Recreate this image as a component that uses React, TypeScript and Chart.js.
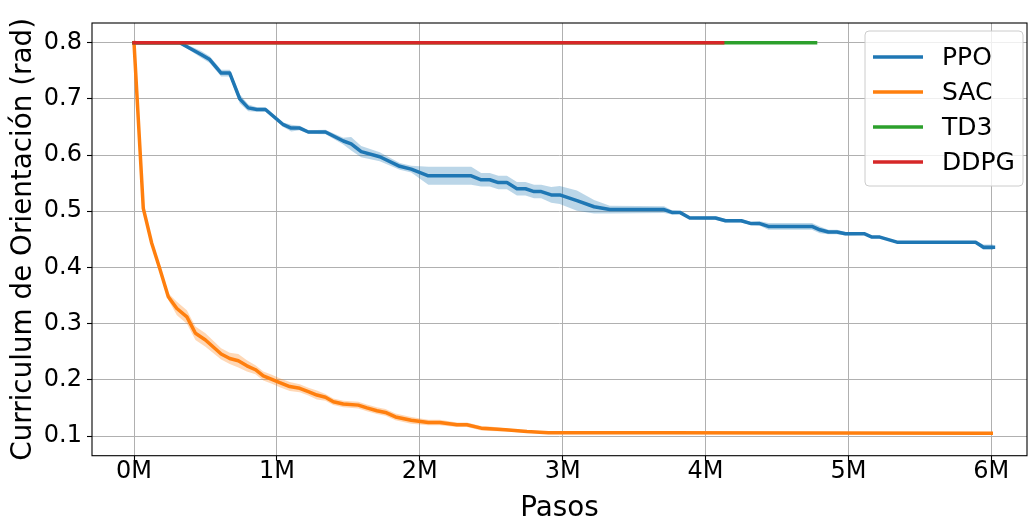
import React, { useEffect, useRef } from "react";
import { Chart, registerables } from "chart.js";

Chart.register(...registerables);

// ---------- data (x in millions of steps) ----------
const ppoSteps = [0, 0.32, 0.47, 0.53, 0.61, 0.67, 0.74, 0.80, 0.86, 0.92, 1.045, 1.10, 1.16, 1.22, 1.34, 1.465, 1.52, 1.59, 1.72, 1.86, 1.94, 2.06, 2.36, 2.43, 2.49, 2.55, 2.61, 2.68, 2.74, 2.80, 2.85, 2.92, 2.98, 3.10, 3.22, 3.33, 3.71, 3.765, 3.82, 3.89, 4.07, 4.14, 4.25, 4.32, 4.38, 4.44, 4.745, 4.80, 4.86, 4.92, 4.98, 5.11, 5.165, 5.22, 5.34, 5.89, 5.945, 6.015];
const ppoMean = [0.8, 0.8, 0.779, 0.77, 0.746, 0.746, 0.70, 0.684, 0.681, 0.681, 0.654, 0.648, 0.648, 0.641, 0.641, 0.625, 0.620, 0.606, 0.597, 0.580, 0.575, 0.563, 0.563, 0.556, 0.556, 0.551, 0.551, 0.540, 0.540, 0.535, 0.535, 0.529, 0.529, 0.519, 0.508, 0.503, 0.503, 0.498, 0.498, 0.488, 0.488, 0.483, 0.483, 0.478, 0.478, 0.473, 0.473, 0.467, 0.463, 0.463, 0.460, 0.460, 0.454, 0.454, 0.445, 0.445, 0.436, 0.436];
const ppoSpread = [0, 0.002, 0.006, 0.006, 0.006, 0.006, 0.008, 0.006, 0.004, 0.004, 0.004, 0.006, 0.004, 0.003, 0.004, 0.006, 0.012, 0.010, 0.008, 0.006, 0.006, 0.016, 0.016, 0.012, 0.012, 0.012, 0.012, 0.012, 0.012, 0.012, 0.012, 0.014, 0.016, 0.018, 0.012, 0.007, 0.006, 0.004, 0.003, 0.002, 0.003, 0.003, 0.003, 0.003, 0.004, 0.006, 0.006, 0.006, 0.004, 0.004, 0.003, 0.002, 0.002, 0.002, 0.002, 0.002, 0.005, 0.005];

const sacSteps = [0, 0.065, 0.124, 0.18, 0.24, 0.30, 0.37, 0.43, 0.50, 0.61, 0.67, 0.73, 0.79, 0.85, 0.905, 0.965, 1.02, 1.09, 1.16, 1.22, 1.28, 1.34, 1.395, 1.465, 1.57, 1.63, 1.70, 1.76, 1.83, 1.94, 2.06, 2.14, 2.26, 2.33, 2.43, 2.49, 2.60, 2.75, 2.90, 3.70, 6.00];
const sacMean = [0.8, 0.505, 0.443, 0.398, 0.348, 0.327, 0.312, 0.283, 0.271, 0.246, 0.238, 0.234, 0.225, 0.218, 0.207, 0.201, 0.195, 0.188, 0.185, 0.179, 0.173, 0.169, 0.161, 0.157, 0.155, 0.150, 0.145, 0.142, 0.134, 0.128, 0.124, 0.124, 0.120, 0.120, 0.114, 0.113, 0.111, 0.108, 0.106, 0.106, 0.105];
const sacSpread = [0, 0.004, 0.004, 0.005, 0.006, 0.012, 0.012, 0.012, 0.012, 0.010, 0.010, 0.012, 0.010, 0.008, 0.008, 0.008, 0.008, 0.008, 0.007, 0.007, 0.008, 0.006, 0.006, 0.006, 0.006, 0.006, 0.006, 0.006, 0.006, 0.006, 0.005, 0.005, 0.004, 0.004, 0.004, 0.004, 0.003, 0.002, 0.001, 0.001, 0.001];

const td3Steps = [0, 4.77];
const td3Values = [0.8, 0.8];
const ddpgSteps = [0, 4.12];
const ddpgValues = [0.8, 0.8];

const xTicks = [0, 1, 2, 3, 4, 5, 6];
const yTicks = [0.1, 0.2, 0.3, 0.4, 0.5, 0.6, 0.7, 0.8];

const legendNames = ["PPO", "SAC", "TD3", "DDPG"];
const colors = ["#1f77b4", "#ff7f0e", "#2ca02c", "#d62728"];

const FONT = "DejaVu Sans";
const TICK_SIZE = 24;
const LINE_W = 3.5;

const pts = (xs: number[], ys: number[]) => xs.map((x, i) => ({ x, y: ys[i] }));

const framePlugin = {
  id: "frameAndLegend",
  afterDraw(chart: any) {
    const ctx = chart.ctx;
    const a = chart.chartArea;
    ctx.save();
    // frame
    ctx.strokeStyle = "#000";
    ctx.lineWidth = 1.1;
    ctx.strokeRect(a.left, a.top, a.right - a.left, a.bottom - a.top);
    // legend
    const bx = 865, by = 31, bw = 158, bh = 155, r = 4;
    ctx.beginPath();
    ctx.moveTo(bx + r, by);
    ctx.lineTo(bx + bw - r, by);
    ctx.quadraticCurveTo(bx + bw, by, bx + bw, by + r);
    ctx.lineTo(bx + bw, by + bh - r);
    ctx.quadraticCurveTo(bx + bw, by + bh, bx + bw - r, by + bh);
    ctx.lineTo(bx + r, by + bh);
    ctx.quadraticCurveTo(bx, by + bh, bx, by + bh - r);
    ctx.lineTo(bx, by + r);
    ctx.quadraticCurveTo(bx, by, bx + r, by);
    ctx.closePath();
    ctx.fillStyle = "rgba(255,255,255,0.8)";
    ctx.fill();
    ctx.strokeStyle = "#cccccc";
    ctx.lineWidth = 1;
    ctx.stroke();
    ctx.font = `25px "${FONT}"`;
    ctx.textBaseline = "middle";
    ctx.textAlign = "left";
    legendNames.forEach((name, i) => {
      const y = 57 + i * 35;
      ctx.strokeStyle = colors[i];
      ctx.lineWidth = LINE_W;
      ctx.beginPath();
      ctx.moveTo(873, y);
      ctx.lineTo(923, y);
      ctx.stroke();
      ctx.fillStyle = "#000";
      ctx.fillText(name, 942, y + 1);
    });
    ctx.restore();
  },
};

export default function App() {
  const ref = useRef<HTMLCanvasElement | null>(null);
  useEffect(() => {
    document.body.style.margin = "0";
    if (!ref.current) return;
    const ppoUpper = ppoMean.map((v, i) => v + ppoSpread[i]);
    const ppoLower = ppoMean.map((v, i) => v - ppoSpread[i]);
    const sacUpper = sacMean.map((v, i) => v + sacSpread[i]);
    const sacLower = sacMean.map((v, i) => v - sacSpread[i]);
    const lineBase = {
      pointRadius: 0,
      borderWidth: LINE_W,
      tension: 0,
      fill: false,
      borderJoinStyle: "round" as const,
      borderCapStyle: "square" as const,
    };
    const band = { pointRadius: 0, borderWidth: 0, tension: 0, borderColor: "rgba(0,0,0,0)" };
    const chart = new Chart(ref.current, {
      type: "line",
      data: {
        datasets: [
          { ...lineBase, label: "DDPG", data: pts(ddpgSteps, ddpgValues), borderColor: colors[3] },
          { ...lineBase, label: "TD3", data: pts(td3Steps, td3Values), borderColor: colors[2] },
          { ...lineBase, label: "SAC", data: pts(sacSteps, sacMean), borderColor: colors[1] },
          { ...lineBase, label: "PPO", data: pts(ppoSteps, ppoMean), borderColor: colors[0] },
          { ...band, label: "sacU", data: pts(sacSteps, sacUpper), fill: false },
          { ...band, label: "sacL", data: pts(sacSteps, sacLower), fill: 4, backgroundColor: "rgba(255,127,14,0.3)" },
          { ...band, label: "ppoU", data: pts(ppoSteps, ppoUpper), fill: false },
          { ...band, label: "ppoL", data: pts(ppoSteps, ppoLower), fill: 6, backgroundColor: "rgba(31,119,180,0.3)" },
        ] as any,
      },
      options: {
        animation: false,
        responsive: false,
        maintainAspectRatio: false,
        layout: { padding: { left: 0, top: 23, right: 2, bottom: 0 } },
        plugins: { legend: { display: false }, tooltip: { enabled: false } },
        scales: {
          x: {
            type: "linear",
            min: -0.294,
            max: 6.25,
            afterBuildTicks: (s: any) => { s.ticks = xTicks.map((v) => ({ value: v })); },
            afterFit: (s: any) => { s.height = 66.3; },
            ticks: {
              autoSkip: false,
              maxRotation: 0,
              padding: -3,
              color: "#000",
              font: { family: FONT, size: TICK_SIZE },
              callback: (v: any) => `${v}M`,
            },
            grid: { color: "#b0b0b0", lineWidth: 1, tickLength: 5, tickColor: "#000", tickWidth: 1.1 },
            border: { display: false },
            title: { display: true, text: "Pasos", color: "#000", font: { family: FONT, size: 27.8 }, padding: { top: 0, bottom: -3 } },
          },
          y: {
            type: "linear",
            min: 0.065,
            max: 0.835,
            afterBuildTicks: (s: any) => { s.ticks = yTicks.map((v) => ({ value: v })); },
            afterFit: (s: any) => { s.width = 92; },
            ticks: {
              autoSkip: false,
              padding: 5,
              color: "#000",
              font: { family: FONT, size: TICK_SIZE },
              callback: (v: any) => Number(v).toFixed(1),
            },
            grid: { color: "#b0b0b0", lineWidth: 1, tickLength: 5, tickColor: "#000", tickWidth: 1.1 },
            border: { display: false },
            title: { display: true, text: "Curriculum de Orientación (rad)", color: "#000", font: { family: FONT, size: 27.8 }, padding: { top: 7, bottom: 0 } },
          },
        },
      },
      plugins: [framePlugin],
    });
    return () => chart.destroy();
  }, []);
  return (
    <div style={{ width: 1029, height: 522 }}>
      <canvas ref={ref} width={1029} height={522} style={{ display: "block" }} />
    </div>
  );
}
